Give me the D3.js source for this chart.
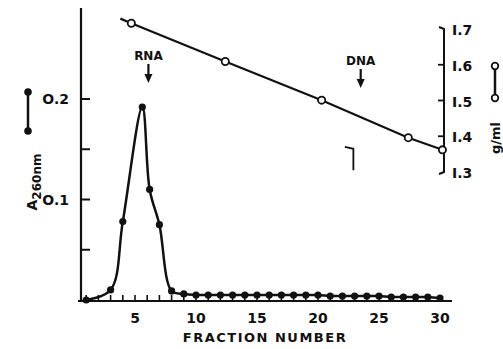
<!DOCTYPE html>
<html>
<head>
<meta charset="utf-8">
<script src="https://cdn.jsdelivr.net/npm/d3@7"></script>
<style>
  html, body { margin: 0; padding: 0; background: #fff; }
  svg text { font-family: "DejaVu Sans", sans-serif; font-weight: bold; fill: #111; }
</style>
</head>
<body>
<svg id="chart" width="503" height="349"></svg>
<script>
// A260 trace (filled dots)
const a260Frac = [1, 3, 4, 5.6, 6.2, 7, 8, 9, 10, 11, 12, 13, 14, 15, 16, 17, 18, 19, 20,
  21, 22, 23, 24, 25, 26, 27, 28, 29, 30];
const a260Val = [0.0, 0.010, 0.078, 0.192, 0.110, 0.075, 0.009, 0.006, 0.005, 0.005, 0.005,
  0.005, 0.005, 0.005, 0.005, 0.005, 0.005, 0.005, 0.005, 0.004, 0.004, 0.004, 0.004,
  0.004, 0.003, 0.003, 0.003, 0.003, 0.002];

// density trace (open circles)
const densFrac = [4.7, 12.4, 20.3, 27.4, 30.2];
const densVal = [1.716, 1.609, 1.501, 1.396, 1.362];
const densLineStart = [3.8, 1.729];

const xTickLabels = [5, 10, 15, 20, 25, 30];
const leftTicks = [0.05, 0.1, 0.15, 0.2];
const leftTickLabels = ['0.1', '0.2'];
const rightTicks = [1.3, 1.4, 1.5, 1.6, 1.7];

const markers = [{ name: 'RNA', frac: 6.1 }, { name: 'DNA', frac: 23.5 }];

const svg = d3.select('#chart');
const ink = '#111';

const x = d3.scaleLinear().domain([5, 30]).range([135, 440]);
const yA = d3.scaleLinear().domain([0, 0.2]).range([300, 99]);
const yD = d3.scaleLinear().domain([1.3, 1.7]).range([172, 29]);

// ── left axis ──
svg.append('line')
  .attr('x1', 81).attr('x2', 81).attr('y1', 8).attr('y2', 301)
  .attr('stroke', ink).attr('stroke-width', 2.2);
svg.selectAll('.ltick').data(leftTicks).enter().append('line')
  .attr('x1', 81).attr('x2', 90)
  .attr('y1', d => yA(d)).attr('y2', d => yA(d))
  .attr('stroke', ink).attr('stroke-width', 2);
svg.selectAll('.llab').data(leftTickLabels).enter().append('text')
  .attr('x', 69).attr('y', d => yA(+d) + 5)
  .attr('text-anchor', 'end').attr('font-size', 14)
  .text(d => d.replace('0.', 'O.'));

// ── x axis ──
svg.append('line')
  .attr('x1', 78).attr('x2', 452).attr('y1', 301).attr('y2', 301)
  .attr('stroke', ink).attr('stroke-width', 2.2);
svg.selectAll('.xtick').data(d3.range(1, 31)).enter().append('line')
  .attr('x1', d => x(d)).attr('x2', d => x(d))
  .attr('y1', 301).attr('y2', 295)
  .attr('stroke', ink).attr('stroke-width', 1.6);
svg.selectAll('.xlab').data(xTickLabels).enter().append('text')
  .attr('x', d => x(d)).attr('y', 323)
  .attr('text-anchor', 'middle').attr('font-size', 14)
  .text(d => d);
svg.append('text')
  .attr('x', 265).attr('y', 342)
  .attr('text-anchor', 'middle').attr('font-size', 13)
  .attr('letter-spacing', 1.5)
  .text('FRACTION NUMBER');

// ── right axis ──
svg.append('path')
  .attr('d', `M439,${yD(1.7) - 2} L444,${yD(1.7)} L444,${yD(1.3)} L439,${yD(1.3) + 2}`)
  .attr('fill', 'none').attr('stroke', ink).attr('stroke-width', 2);
svg.selectAll('.rtick').data(rightTicks.slice(1, 4)).enter().append('line')
  .attr('x1', 438).attr('x2', 444)
  .attr('y1', d => yD(d)).attr('y2', d => yD(d))
  .attr('stroke', ink).attr('stroke-width', 1.8);
svg.selectAll('.rlab').data(rightTicks).enter().append('text')
  .attr('x', 452).attr('y', d => yD(d) + 6)
  .attr('font-size', 14)
  .text(d => d3.format('.1f')(d).replace('1.', 'I.'));

// ── legends ──
svg.append('line')
  .attr('x1', 28).attr('x2', 28).attr('y1', 92).attr('y2', 131)
  .attr('stroke', ink).attr('stroke-width', 2.5);
svg.selectAll('.lgdot').data([92, 131]).enter().append('circle')
  .attr('cx', 28).attr('cy', d => d).attr('r', 3.8).attr('fill', ink);
const aLab = svg.append('text')
  .attr('transform', 'translate(37,182) rotate(-90)')
  .attr('text-anchor', 'middle').attr('font-size', 14);
aLab.append('tspan').text('A');
aLab.append('tspan').attr('dy', 4).attr('font-size', 12).text('260nm');

svg.append('line')
  .attr('x1', 495).attr('x2', 495).attr('y1', 66).attr('y2', 98)
  .attr('stroke', ink).attr('stroke-width', 2.5);
svg.selectAll('.rgdot').data([66, 98]).enter().append('circle')
  .attr('cx', 495).attr('cy', d => d).attr('r', 3.3)
  .attr('fill', '#fff').attr('stroke', ink).attr('stroke-width', 1.8);
svg.append('text')
  .attr('transform', 'translate(500,138) rotate(-90)')
  .attr('text-anchor', 'middle').attr('font-size', 13)
  .text('g/ml');

// ── RNA / DNA arrows ──
markers.forEach(m => {
  const cx = x(m.frac);
  const top = m.name === 'RNA' ? 60 : 65;
  svg.append('text')
    .attr('x', cx).attr('y', top)
    .attr('text-anchor', 'middle').attr('font-size', 12)
    .text(m.name);
  svg.append('line')
    .attr('x1', cx).attr('x2', cx).attr('y1', top + 4).attr('y2', top + 18)
    .attr('stroke', ink).attr('stroke-width', 2.2);
  svg.append('path')
    .attr('d', `M${cx - 4},${top + 14} L${cx + 4},${top + 14} L${cx},${top + 23} Z`)
    .attr('fill', ink);
});

// ── density line ──
const dLine = d3.line().x(d => x(d[0])).y(d => yD(d[1]));
const dPts = [densLineStart].concat(densFrac.map((f, i) => [f, densVal[i]]));
svg.append('path')
  .attr('d', dLine(dPts))
  .attr('fill', 'none').attr('stroke', ink).attr('stroke-width', 2.2);
svg.selectAll('.dpt').data(densFrac).enter().append('circle')
  .attr('cx', d => x(d)).attr('cy', (d, i) => yD(densVal[i]))
  .attr('r', 3.6).attr('fill', '#fff').attr('stroke', ink).attr('stroke-width', 1.8);

// ── A260 curve ──
const aPts = a260Frac.map((f, i) => [f, a260Val[i]]);
const aLine = d3.line().x(d => x(d[0])).y(d => yA(d[1])).curve(d3.curveCatmullRom.alpha(0.5));
svg.append('path')
  .attr('d', aLine(aPts))
  .attr('fill', 'none').attr('stroke', ink).attr('stroke-width', 2.5);
svg.selectAll('.apt').data(aPts).enter().append('circle')
  .attr('cx', d => x(d[0])).attr('cy', d => yA(d[1]))
  .attr('r', 3.6).attr('fill', ink);

// stray mark in the scan
svg.append('path')
  .attr('d', `M${x(22.2)},${yD(1.37)} L${x(22.9)},${yD(1.365)} L${x(22.9)},${yD(1.305)}`)
  .attr('fill', 'none').attr('stroke', ink).attr('stroke-width', 1.8);
</script>
</body>
</html>
